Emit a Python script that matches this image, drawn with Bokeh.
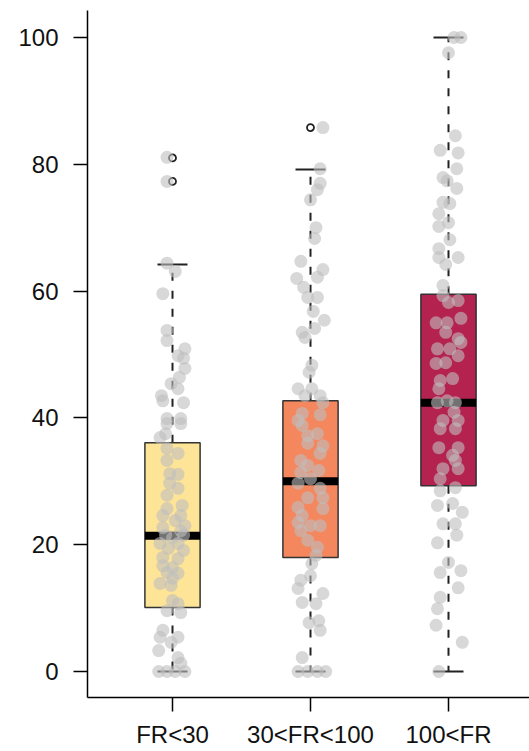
from bokeh.plotting import figure
from bokeh.models import FixedTicker, Range1d
from bokeh.embed import file_html
from bokeh.resources import INLINE

# ---------------- data ----------------
categories = ["FR<30", "30<FR<100", "100<FR"]
positions = [1, 2, 3]
q1 = [10.1, 18.0, 29.3]
median = [21.4, 30.0, 42.4]
q3 = [36.1, 42.7, 59.5]
whisker_low = [0, 0, 0]
whisker_high = [64.2, 79.2, 100]
outlier_group = [1, 1, 2]
outlier_value = [81.0, 77.3, 85.8]
box_colors = ["#FEE497", "#F5875F", "#B4234F"]
y_ticks = [0, 20, 40, 60, 80, 100]

g1_values = [81.1, 77.3, 64.4, 63.1, 59.6, 53.8, 52.2, 50.9, 49.8, 49.4, 47.8, 46.4,
             45.4, 44.6, 43.5, 42.4, 39.9, 39.9, 42.7, 39.1, 39.1, 37.5, 36.9, 35.2,
             34.4, 33.3, 31.2, 31.1, 29.7, 28.9, 27.8, 26.2, 25.7, 24.6, 24.6, 23.8,
             23.0, 22.7, 22.2, 21.5, 21.5, 21.1, 20.2, 20.2, 19.4, 19.1, 18.0, 17.8,
             16.7, 16.4, 15.6, 15.5, 14.7, 13.9, 13.6, 11.2, 10.7, 9.6, 9.3, 6.5,
             5.4, 5.4, 4.6, 3.3, 2.2, 1.3, 0, 0, 0, 0]
g1_jitter = [-0.04, -0.04, -0.04, 0.02, -0.07, -0.04, -0.04, 0.09, 0.04, 0.08, 0.09, 0.05,
             -0.01, 0.04, -0.08, 0.08, -0.04, 0.06, -0.07, -0.04, 0.06, -0.05, -0.09, -0.04,
             0.04, -0.04, -0.02, 0.04, -0.02, 0.04, -0.04, 0.07, -0.04, -0.07, 0.06, 0.02,
             0.09, -0.07, 0.06, 0.08, -0.05, 0.0, -0.09, 0.04, -0.03, 0.08, -0.07, 0.04,
             -0.07, 0.0, -0.04, 0.04, 0.0, -0.09, -0.01, 0.0, 0.04, -0.04, 0.06, -0.07,
             -0.09, 0.04, -0.01, -0.10, 0.04, 0.06, -0.10, -0.04, 0.02, 0.09]

g2_values = [85.8, 79.3, 77.0, 76.0, 74.4, 70.0, 68.3, 64.7, 63.4, 62.0, 62.2, 60.6,
             59.0, 59.0, 56.8, 55.4, 54.1, 53.5, 52.7, 48.3, 47.2, 44.6, 44.6, 43.5,
             43.5, 42.4, 40.7, 40.5, 39.6, 38.8, 37.5, 37.2, 36.0, 35.6, 34.4, 33.3,
             32.5, 31.7, 31.4, 30.4, 29.7, 28.9, 27.4, 27.4, 25.9, 25.7, 24.6, 23.5,
             23.0, 23.0, 22.2, 20.7, 19.6, 18.3, 17.0, 15.1, 14.4, 13.1, 12.3, 10.9,
             10.7, 7.7, 8.0, 6.5, 2.2, 0, 0, 0, 0]
g2_jitter = [0.09, 0.07, 0.07, 0.05, 0.0, 0.04, 0.03, -0.07, 0.09, -0.10, 0.05, -0.05,
             0.05, -0.02, 0.02, 0.10, 0.03, -0.06, -0.04, 0.01, -0.01, -0.09, 0.01, 0.07,
             -0.04, 0.09, -0.06, 0.07, -0.09, -0.06, 0.05, -0.02, -0.02, 0.09, 0.07, -0.07,
             -0.02, 0.06, -0.07, 0.0, -0.09, 0.07, -0.02, 0.09, -0.09, 0.09, -0.06, -0.09,
             0.0, 0.07, -0.07, -0.02, 0.05, 0.04, 0.01, 0.0, -0.07, -0.09, 0.09, -0.06,
             0.04, -0.01, 0.06, 0.07, -0.06, -0.09, -0.02, 0.05, 0.11]

g3_values = [100, 100, 97.6, 84.5, 82.2, 81.8, 79.3, 77.9, 77.4, 76.2, 74.0, 73.8,
             72.2, 70.8, 70.2, 68.1, 66.7, 65.3, 65.3, 64.2, 60.9, 59.3, 58.2, 58.5,
             55.0, 55.0, 55.7, 53.5, 52.5, 50.9, 50.9, 51.9, 49.8, 48.6, 48.7, 46.2,
             45.9, 44.6, 42.7, 42.4, 42.4, 40.9, 39.6, 39.6, 38.3, 38.3, 35.3, 35.3,
             34.1, 33.3, 32.0, 32.0, 30.4, 28.5, 29.0, 26.2, 26.5, 25.1, 23.3, 23.3,
             21.5, 20.3, 17.2, 15.6, 15.9, 13.2, 11.7, 9.9, 7.3, 4.6, 0]
g3_jitter = [0.04, 0.09, 0.0, 0.05, -0.06, 0.07, 0.06, -0.04, -0.01, 0.06, -0.04, 0.01,
             -0.07, 0.0, -0.07, 0.01, -0.07, -0.07, 0.07, -0.02, -0.04, -0.04, 0.0, 0.07,
             -0.09, -0.01, 0.09, -0.02, 0.07, -0.08, 0.01, 0.09, 0.07, -0.09, -0.02, 0.03,
             -0.06, -0.07, -0.01, 0.05, -0.08, 0.04, -0.04, 0.07, -0.06, 0.05, -0.07, 0.07,
             0.03, 0.05, -0.04, 0.07, -0.06, -0.06, 0.05, -0.08, 0.03, 0.10, -0.04, 0.05,
             0.06, -0.08, 0.0, -0.06, 0.09, 0.07, -0.06, -0.08, -0.09, 0.10, -0.07]

# ---------------- figure ----------------
p = figure(width=529, height=751,
           x_range=Range1d(0.384, 3.587), y_range=Range1d(-4.1, 104.26),
           output_backend="svg", toolbar_location=None,
           min_border_left=87, min_border_right=0, min_border_top=10, min_border_bottom=54)
p.outline_line_color = None
p.xgrid.visible = False
p.ygrid.visible = False
p.background_fill_color = "white"

font = "Liberation Sans"

# y axis
p.yaxis.ticker = FixedTicker(ticks=y_ticks)
p.yaxis.axis_line_color = "black"
p.yaxis.axis_line_width = 1.5
p.yaxis.major_tick_line_color = "black"
p.yaxis.major_tick_line_width = 1.5
p.yaxis.major_tick_out = 14
p.yaxis.major_tick_in = 0
p.yaxis.minor_tick_line_color = None
p.yaxis.major_label_standoff = 15
p.yaxis.major_label_text_font = font
p.yaxis.major_label_text_font_size = "24px"
p.yaxis.major_label_text_color = "#111111"

# x axis
p.xaxis.ticker = FixedTicker(ticks=positions)
p.xaxis.major_label_overrides = {pos: cat for pos, cat in zip(positions, categories)}
p.xaxis.axis_line_color = "black"
p.xaxis.axis_line_width = 1.5
p.xaxis.major_tick_line_color = "black"
p.xaxis.major_tick_line_width = 1.5
p.xaxis.major_tick_out = 14
p.xaxis.major_tick_in = 0
p.xaxis.minor_tick_line_color = None
p.xaxis.major_label_standoff = 9
p.xaxis.major_label_text_font = font
p.xaxis.major_label_text_font_size = "24px"
p.xaxis.major_label_text_color = "#111111"

# whiskers
p.segment(x0=positions, y0=q3, x1=positions, y1=whisker_high,
          line_color="#222222", line_width=2, line_dash="8 10")
p.segment(x0=positions, y0=q1, x1=positions, y1=whisker_low,
          line_color="#222222", line_width=2, line_dash="8 10")
p.scatter(x=positions, y=whisker_high, marker="dash", size=30,
          line_color="#222222", line_width=2)
p.scatter(x=positions, y=whisker_low, marker="dash", size=30,
          line_color="#222222", line_width=2)

# boxes
p.vbar(x=positions, bottom=q1, top=q3, width=0.4, fill_color=box_colors,
       line_color="#333333", line_width=1.5)
p.rect(x=positions, y=median, width=0.4, height=8, height_units="screen",
       fill_color="black", line_color=None)

# outliers
p.scatter(x=outlier_group, y=outlier_value, marker="circle", size=7,
          fill_color=None, line_color="#222222", line_width=1.8)

# jittered points
px, py = [], []
for pos, vals, jit in zip(positions, [g1_values, g2_values, g3_values],
                          [g1_jitter, g2_jitter, g3_jitter]):
    px += [pos + j for j in jit]
    py += vals
p.scatter(x=px, y=py, marker="circle", size=13, fill_color="#BEBEBE",
          fill_alpha=0.6, line_color=None)

open("out.html", "w").write(file_html(p, INLINE))
